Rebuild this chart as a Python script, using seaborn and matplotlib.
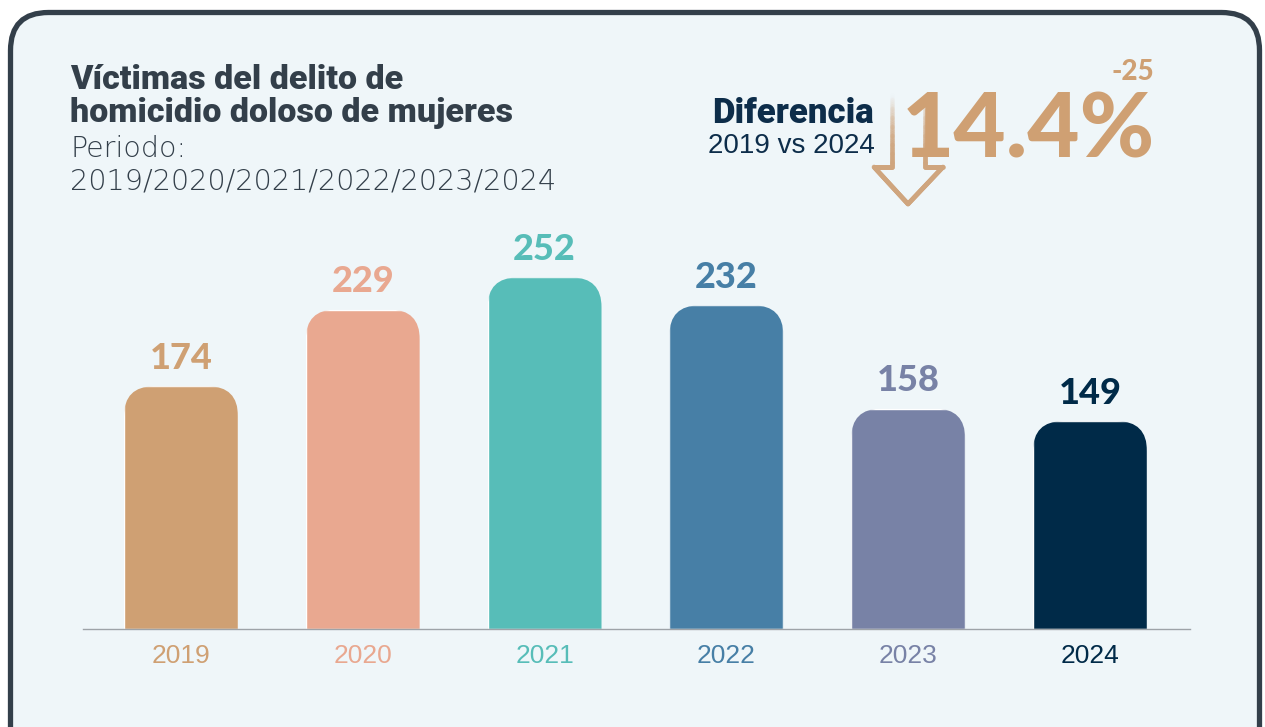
import matplotlib
matplotlib.use("Agg")
import numpy as np
import pandas as pd
import seaborn as sns
import matplotlib.pyplot as plt
from matplotlib.patches import FancyBboxPatch
from matplotlib.collections import LineCollection

years = ["2019", "2020", "2021", "2022", "2023", "2024"]
victims = [174, 229, 252, 232, 158, 149]
bar_colors = ["#cfa073", "#e9a890", "#57bdb8", "#477fa6", "#7882a6", "#002a48"]

title_lines = ["Víctimas del delito de", "homicidio doloso de mujeres"]
period_label = "Periodo:"
period_years = "2019/2020/2021/2022/2023/2024"
diff_label = "Diferencia"
diff_years = "2019 vs 2024"
diff_pct = "14.4%"
diff_abs = "-25"

df = pd.DataFrame({"year": years, "victims": victims})

sns.set_theme(style="white")
plt.rcParams["font.family"] = ["Lato", "DejaVu Sans"]

W, H = 1265, 727
fig = plt.figure(figsize=(W / 100, H / 100), dpi=100)
fig.patch.set_facecolor("white")

# background layer in pixel coordinates
bg = fig.add_axes([0, 0, 1, 1])
bg.set_xlim(0, W)
bg.set_ylim(H, 0)
bg.axis("off")
bg.add_patch(FancyBboxPatch((10.5, 12.5), 1249, 800,
                            boxstyle="round,pad=0,rounding_size=38",
                            fc="#eff6f9", ec="#333f4a", lw=3.8))

dark = "#333f4a"
navy = "#0d2d4a"
tan = "#cfa073"

bg.text(70, 89, title_lines[0], fontsize=24.5, fontweight="heavy", color=dark,
        family=["Roboto", "DejaVu Sans"], va="baseline")
bg.text(70, 122, title_lines[1], fontsize=24.5, fontweight="heavy", color=dark,
        family=["Roboto", "DejaVu Sans"], va="baseline")
bg.text(70, 157, period_label, fontsize=20.5, fontweight="light", color=dark,
        family=["DejaVu Sans"], va="baseline")
bg.text(70, 190, period_years, fontsize=20.7, fontweight="light", color=dark,
        family=["DejaVu Sans"], va="baseline")

# gradient arrow outline
arrow = np.array([[892, 95], [892, 167], [874, 167], [908, 204],
                  [943, 167], [925, 167], [925, 95]], dtype=float)
pts = []
for a, b in zip(arrow[:-1], arrow[1:]):
    for t in np.linspace(0, 1, 40, endpoint=False):
        pts.append(a + (b - a) * t)
pts.append(arrow[-1])
pts = np.array(pts)
segs = np.stack([pts[:-1], pts[1:]], axis=1)
ymid = segs[:, :, 1].mean(axis=1)
alpha = np.clip((ymid - 95) / 80, 0, 1) ** 1.2
rgb = matplotlib.colors.to_rgb("#cfa57e")
cols = [(rgb[0], rgb[1], rgb[2], a) for a in alpha]
bg.add_collection(LineCollection(segs, colors=cols, linewidths=3.4,
                                 capstyle="round", joinstyle="round"))

bg.text(874, 123, diff_label, fontsize=25, fontweight="heavy", color=navy,
        family=["Roboto", "DejaVu Sans"], ha="right", va="baseline")
bg.text(875, 153, diff_years, fontsize=20, color=navy,
        family=["Liberation Sans", "DejaVu Sans"], ha="right", va="baseline")
bg.text(1155, 157, diff_pct, fontsize=65, fontweight="black", color=tan,
        ha="right", va="baseline")
bg.text(1154, 80, diff_abs, fontsize=20, fontweight="black", color=tan,
        ha="right", va="baseline")

# bar chart
px_per_unit = 1.395
ax = fig.add_axes([83 / W, 1 - 629 / H, (1190 - 83) / W, (629 - 200) / H])
ax.patch.set_alpha(0)
sns.barplot(data=df, x="year", y="victims", hue="year", palette=bar_colors,
            width=0.627, saturation=1, legend=False, ax=ax)
ax.set_xlim(-0.539, 5.55)
ax.set_ylim(0, 429 / px_per_unit)

rx = 30 / 181.8
ry = 30 / px_per_unit
for p in ax.patches:
    clip = FancyBboxPatch((p.get_x(), -40), p.get_width(), p.get_height() + 40,
                          boxstyle=f"round,pad=0,rounding_size={rx}",
                          mutation_aspect=ry / rx, transform=ax.transData)
    p.set_clip_path(clip)

for i, v in enumerate(victims):
    ax.annotate(str(v), (i, v), xytext=(0, 20), textcoords="offset points",
                ha="center", va="center", fontsize=26, fontweight="black",
                color=bar_colors[i])

ax.set_xticks(range(len(years)))
ax.set_xticklabels(years, fontsize=19, family=["Liberation Sans", "DejaVu Sans"])
for lbl, c in zip(ax.get_xticklabels(), bar_colors):
    lbl.set_color(c)
ax.tick_params(axis="x", length=0, pad=11)
ax.set_yticks([])
ax.set_xlabel("")
ax.set_ylabel("")
for s in ["top", "right", "left"]:
    ax.spines[s].set_visible(False)
ax.spines["bottom"].set_color("#9ea3a8")
ax.spines["bottom"].set_linewidth(1.0)

fig.savefig("out.png", dpi=100)
